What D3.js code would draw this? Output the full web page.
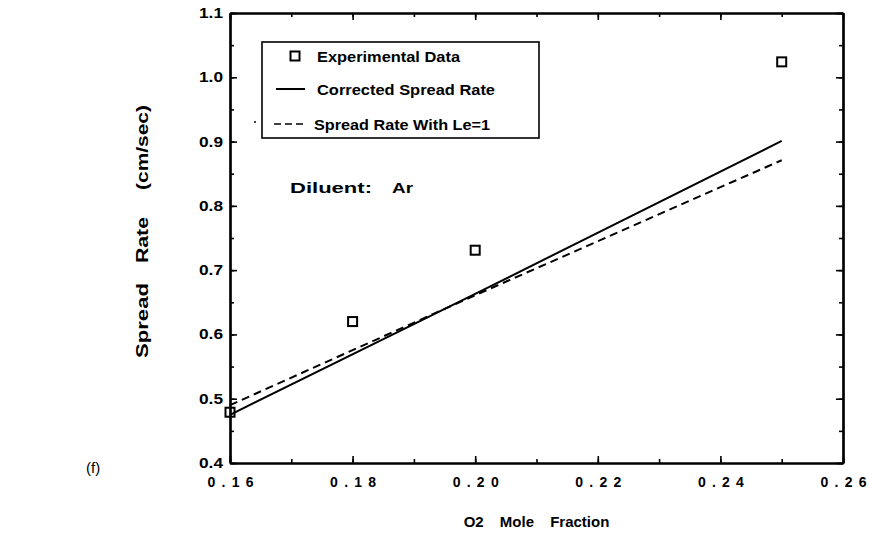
<!DOCTYPE html>
<html>
<head>
<meta charset="utf-8">
<script src="https://cdn.jsdelivr.net/npm/d3@7"></script>
<style>
  body { margin: 0; background: #fff; }
  svg { display: block; font-family: "Liberation Sans", Arial, sans-serif; }
  .tick text { font-weight: bold; fill: #000; }
</style>
</head>
<body>
<svg id="chart" width="869" height="552"></svg>
<script>
// données
const o2Exp = [0.16, 0.18, 0.20, 0.25];
const rateExp = [0.479, 0.62, 0.731, 1.024];
const o2Model = [0.16, 0.20, 0.25];
const rateCorrected = [0.475, 0.663, 0.901];
const rateLe1 = [0.49, 0.661, 0.871];
const xTicks = [0.16, 0.18, 0.20, 0.22, 0.24, 0.26];
const yTicks = [0.4, 0.5, 0.6, 0.7, 0.8, 0.9, 1.0, 1.1];
const legendLabels = ["Experimental Data", "Corrected Spread Rate", "Spread Rate With Le=1"];

let svg = d3.select("#chart");
let gauche = 230, droite = 843, haut = 13, bas = 463;

let x = d3.scaleLinear().domain([0.16, 0.26]).range([gauche, droite]);
let y = d3.scaleLinear().domain([0.4, 1.1]).range([bas, haut]);

let xMinor = d3.range(0.16, 0.2601, 0.01);
let yMinor = d3.range(0.4, 1.1001, 0.05);

// axes : ticks vers l'intérieur sur les quatre côtés
function drawAxis(axis, tx, ty) {
    let g = svg.append("g").attr("transform", `translate(${tx},${ty})`).call(axis);
    g.select(".domain").attr("stroke", "#000").attr("stroke-width", 2.2);
    g.selectAll(".tick line").attr("stroke", "#000").attr("stroke-width", 1.6);
    return g;
}

drawAxis(d3.axisBottom(x).tickValues(xMinor).tickSize(-4).tickSizeOuter(0).tickFormat(""), 0, bas);
drawAxis(d3.axisTop(x).tickValues(xMinor).tickSize(-4).tickSizeOuter(0).tickFormat(""), 0, haut);
drawAxis(d3.axisLeft(y).tickValues(yMinor).tickSize(-4).tickSizeOuter(0).tickFormat(""), gauche, 0);
drawAxis(d3.axisRight(y).tickValues(yMinor).tickSize(-4).tickSizeOuter(0).tickFormat(""), droite, 0);

let gx = drawAxis(d3.axisBottom(x).tickValues(xTicks).tickSize(-7).tickSizeOuter(0).tickPadding(14).tickFormat(d3.format(".2f")), 0, bas);
gx.selectAll(".tick text")
    .attr("font-size", 14)
    .attr("textLength", 46)
    .attr("lengthAdjust", "spacing");

let gy = drawAxis(d3.axisLeft(y).tickValues(yTicks).tickSize(-7).tickSizeOuter(0).tickPadding(15).tickFormat(d3.format(".1f")), gauche, 0);
gy.selectAll(".tick text")
    .attr("font-size", 14)
    .attr("x", -31)
    .attr("text-anchor", "start")
    .attr("textLength", 24)
    .attr("lengthAdjust", "spacingAndGlyphs");

drawAxis(d3.axisTop(x).tickValues(xTicks).tickSize(-7).tickSizeOuter(0).tickFormat(""), 0, haut);
drawAxis(d3.axisRight(y).tickValues(yTicks).tickSize(-7).tickSizeOuter(0).tickFormat(""), droite, 0);

// courbes
let line = d3.line().x(d => x(d[0])).y(d => y(d[1]));

svg.append("path")
    .datum(o2Model.map((d, i) => [d, rateCorrected[i]]))
    .attr("d", line)
    .attr("fill", "none")
    .attr("stroke", "#000")
    .attr("stroke-width", 2);

svg.append("path")
    .datum(o2Model.map((d, i) => [d, rateLe1[i]]))
    .attr("d", line)
    .attr("fill", "none")
    .attr("stroke", "#000")
    .attr("stroke-width", 2)
    .attr("stroke-dasharray", "8,5");

// points expérimentaux
let taille = 9;
svg.selectAll(".carre")
    .data(o2Exp)
    .join("rect")
    .attr("class", "carre")
    .attr("x", d => x(d) - taille / 2)
    .attr("y", (d, i) => y(rateExp[i]) - taille / 2)
    .attr("width", taille)
    .attr("height", taille)
    .attr("fill", "none")
    .attr("stroke", "#000")
    .attr("stroke-width", 2);

// légende
let leg = svg.append("g");
leg.append("rect")
    .attr("x", 262).attr("y", 42)
    .attr("width", 277).attr("height", 96)
    .attr("fill", "#fff")
    .attr("stroke", "#000")
    .attr("stroke-width", 1.6);

let rowY = [56, 89, 124];
let textX = [317, 317, 314];
let textW = [143, 178, 176];

leg.append("rect")
    .attr("x", 295 - taille / 2).attr("y", rowY[0] - taille / 2)
    .attr("width", taille).attr("height", taille)
    .attr("fill", "none").attr("stroke", "#000").attr("stroke-width", 2);
leg.append("line")
    .attr("x1", 276).attr("x2", 305).attr("y1", rowY[1]).attr("y2", rowY[1])
    .attr("stroke", "#000").attr("stroke-width", 2);
leg.append("line")
    .attr("x1", 274).attr("x2", 305).attr("y1", rowY[2]).attr("y2", rowY[2])
    .attr("stroke", "#000").attr("stroke-width", 1.6)
    .attr("stroke-dasharray", "7,4");

leg.selectAll(".legtext")
    .data(legendLabels)
    .join("text")
    .attr("class", "legtext")
    .attr("x", (d, i) => textX[i])
    .attr("y", (d, i) => rowY[i] + 5.5)
    .attr("font-size", 15)
    .attr("font-weight", "bold")
    .attr("textLength", (d, i) => textW[i])
    .attr("lengthAdjust", "spacingAndGlyphs")
    .text(d => d);

// point isolé à gauche de la légende
svg.append("circle").attr("cx", 255).attr("cy", 122).attr("r", 1).attr("fill", "#000");

// annotation
svg.append("text")
    .attr("x", 290).attr("y", 193)
    .attr("font-size", 15).attr("font-weight", "bold")
    .attr("textLength", 82).attr("lengthAdjust", "spacingAndGlyphs")
    .text("Diluent:");
svg.append("text")
    .attr("x", 392).attr("y", 193)
    .attr("font-size", 15).attr("font-weight", "bold")
    .attr("textLength", 21).attr("lengthAdjust", "spacingAndGlyphs")
    .text("Ar");

// titres des axes
let yTitle = svg.append("g").attr("transform", "translate(148,0) rotate(-90)");
let yMots = [["Spread", 358, 75], ["Rate", 263, 46], ["(cm/sec)", 190, 85]];
yTitle.selectAll("text")
    .data(yMots)
    .join("text")
    .attr("x", d => -d[1])
    .attr("y", 0)
    .attr("font-size", 16)
    .attr("font-weight", "bold")
    .attr("textLength", d => d[2])
    .attr("lengthAdjust", "spacingAndGlyphs")
    .text(d => d[0]);

svg.append("text")
    .attr("x", (gauche + droite) / 2).attr("y", 527)
    .attr("text-anchor", "middle")
    .attr("font-size", 15).attr("font-weight", "bold")
    .attr("word-spacing", 12)
    .text("O2 Mole Fraction");

svg.append("text")
    .attr("x", 86).attr("y", 473)
    .attr("font-size", 15)
    .text("(f)");
</script>
</body>
</html>
